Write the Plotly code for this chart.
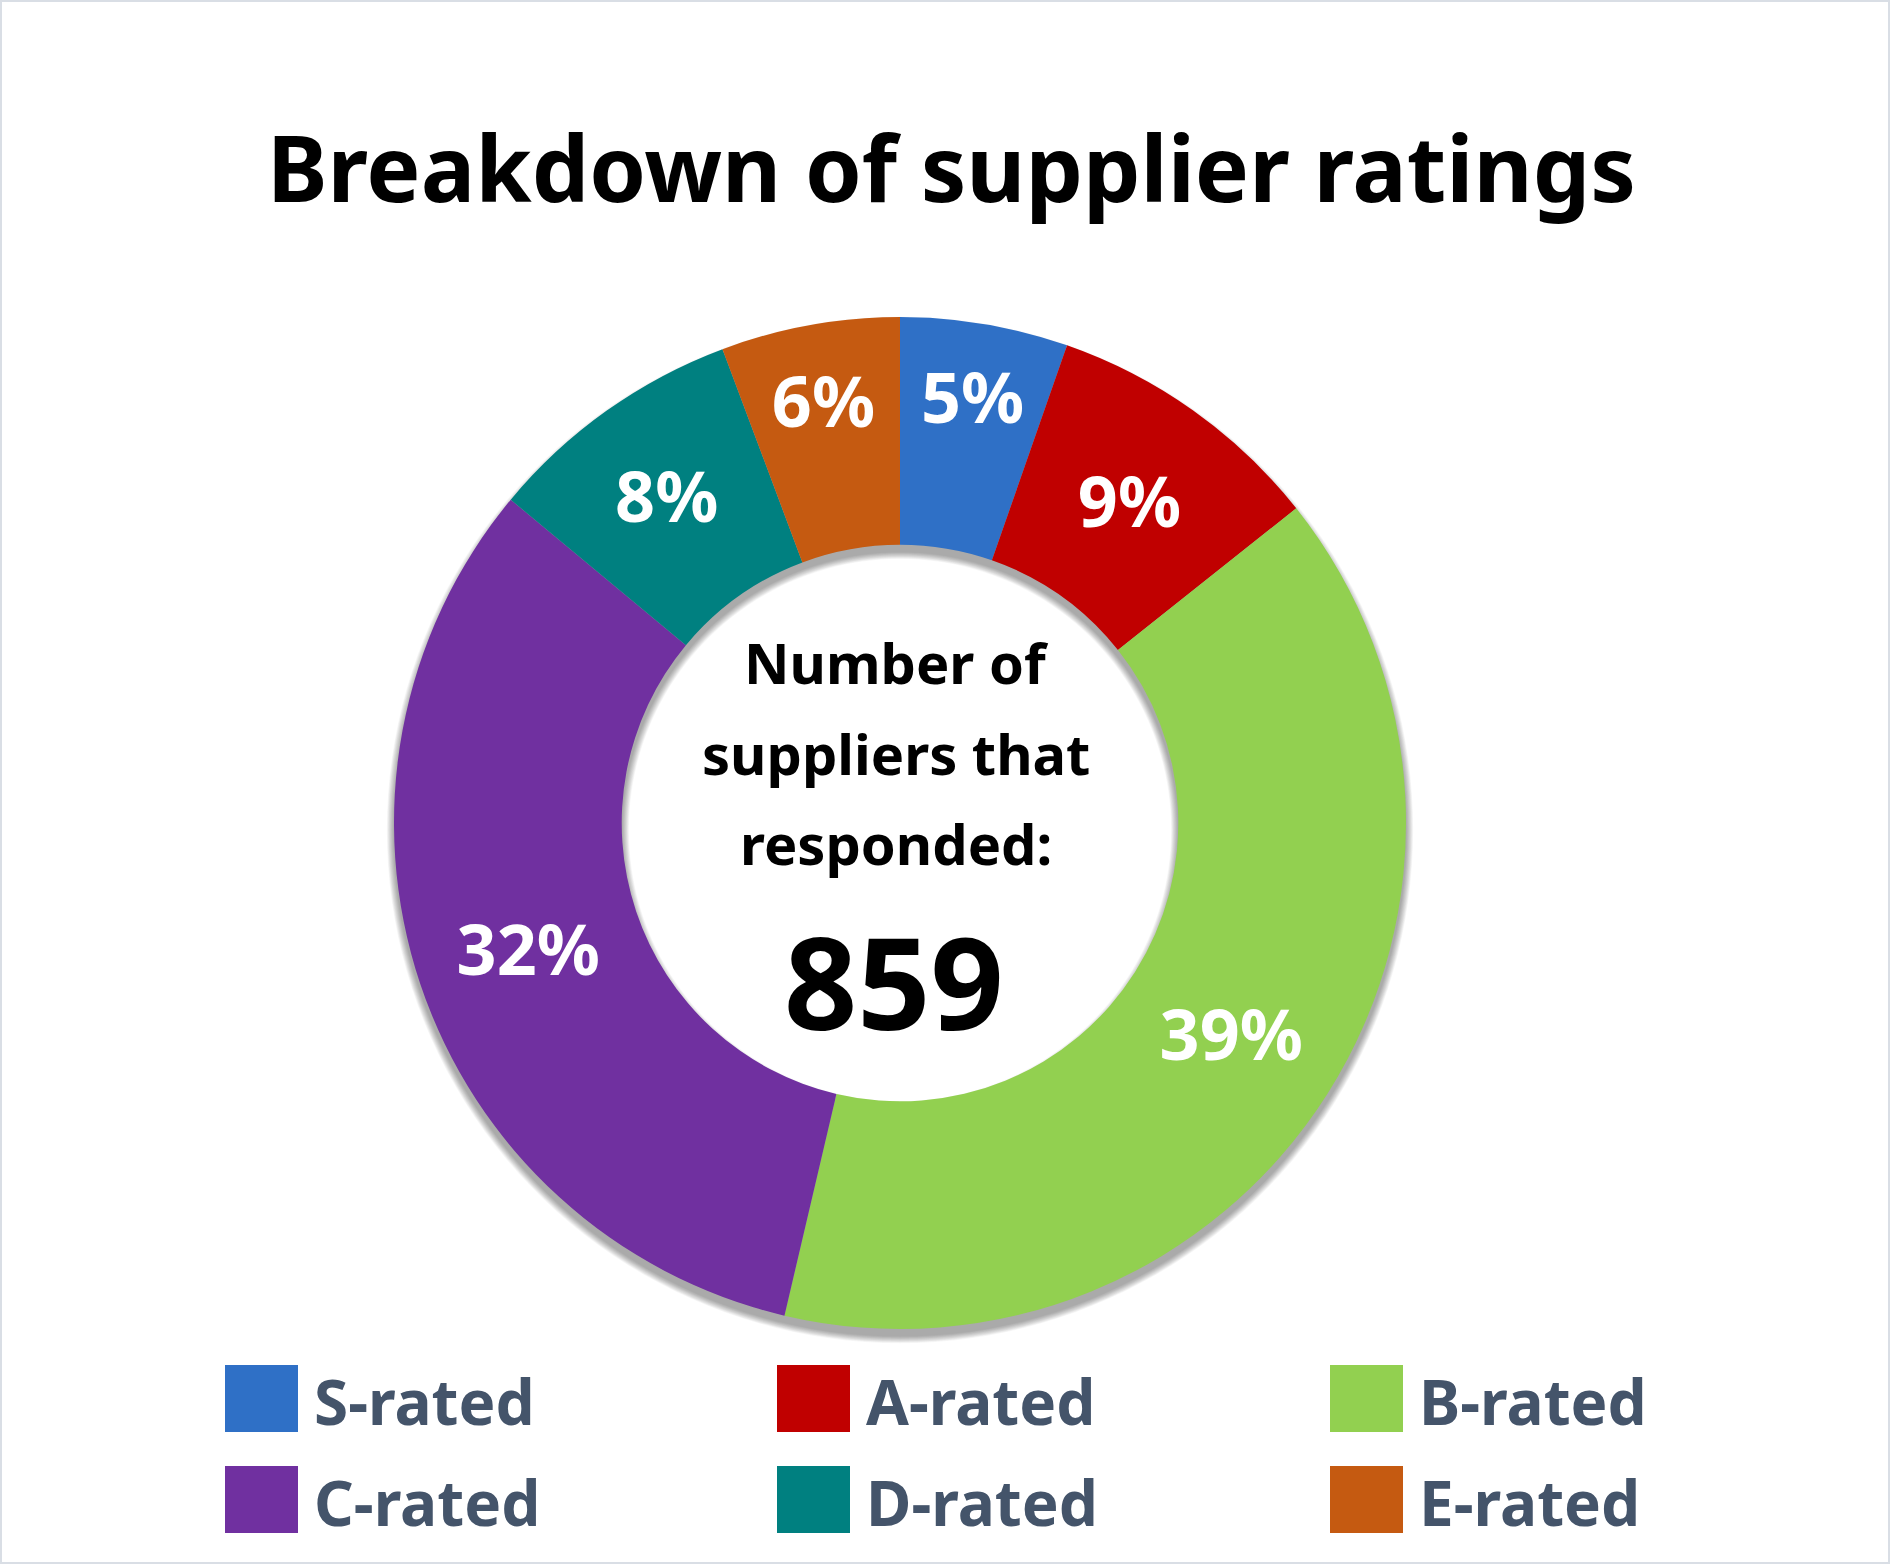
import math
import plotly.graph_objects as go

# ---- data ----
categories = ["S-rated", "A-rated", "B-rated", "C-rated", "D-rated", "E-rated"]
supplier_counts = [46, 77, 338, 278, 71, 49]
colors = ["#2F70C6", "#C00000", "#92D050", "#7030A0", "#008080", "#C55A11"]
title_text = "Breakdown of supplier ratings"
center_lines = ["Number of", "suppliers that", "responded:"]
total_label = str(sum(supplier_counts))

W, H = 1890, 1564
FONT = "Noto Sans"


def px(x):
    return x / W


def py(y):
    return 1 - y / H


# donut geometry (pixels)
CX, CY, R_OUT = 900, 823, 506
HOLE = 0.55

fig = go.Figure()
fig.add_trace(go.Pie(
    labels=categories,
    values=supplier_counts,
    marker=dict(colors=colors, line=dict(width=0)),
    hole=HOLE,
    sort=False,
    direction="clockwise",
    rotation=0,
    texttemplate="%{percent:.0%}",
    textposition="inside",
    insidetextorientation="horizontal",
    textfont=dict(family=FONT, size=70, color="white", weight="bold"),
    domain=dict(x=[px(CX - R_OUT), px(CX + R_OUT)],
                y=[py(CY + R_OUT), py(CY - R_OUT)]),
    showlegend=False,
    hoverinfo="label+value+percent",
))

shapes = []
# soft shadow under the donut (offset downward)
r_in = R_OUT * HOLE
off = 7
for k in range(1, 13):
    ro, ri = R_OUT + k * 0.6, r_in - k * 0.6
    n = 180
    outer = [(CX + ro * math.cos(2 * math.pi * i / n), CY + off + ro * math.sin(2 * math.pi * i / n)) for i in range(n)]
    inner = [(CX + ri * math.cos(-2 * math.pi * i / n), CY + off + ri * math.sin(-2 * math.pi * i / n)) for i in range(n)]
    path = "M " + " L ".join(f"{px(x):.5f},{py(y):.5f}" for x, y in outer) + " Z "
    path += "M " + " L ".join(f"{px(x):.5f},{py(y):.5f}" for x, y in inner) + " Z"
    shapes.append(dict(type="path", xref="paper", yref="paper", path=path,
                       fillcolor="rgba(0,0,0,0.03)", line=dict(width=0), layer="below"))

# border
shapes.append(dict(type="rect", xref="paper", yref="paper", x0=0, y0=0, x1=1, y1=1,
                   line=dict(color="#D9DEE5", width=4), fillcolor="rgba(0,0,0,0)"))

annotations = []
annotations.append(dict(text=f"<b>{title_text}</b>", x=px(952), y=py(167), xref="paper", yref="paper",
                        xanchor="center", yanchor="middle", showarrow=False,
                        font=dict(family=FONT, size=91, color="#000000")))

# center text
baselines = [682, 773, 863]
for line, b in zip(center_lines, baselines):
    annotations.append(dict(text=f"<b>{line}</b>", x=px(CX - 4), y=py(b - 20), xref="paper", yref="paper",
                            xanchor="center", yanchor="middle", showarrow=False,
                            font=dict(family=FONT, size=56, color="#000000")))
annotations.append(dict(text=f"<b>{total_label}</b>", x=px(CX - 6), y=py(1025 - 45), xref="paper", yref="paper",
                        xanchor="center", yanchor="middle", showarrow=False,
                        font=dict(family=FONT, size=128, color="#000000")))

# custom legend (3 columns x 2 rows)
col_x = [225, 777, 1330]
row_y = [1365, 1466]
sw_w, sw_h = 73, 67
for i, (cat, col) in enumerate(zip(categories, colors)):
    cx0 = col_x[i % 3]
    ry0 = row_y[i // 3]
    shapes.append(dict(type="rect", xref="paper", yref="paper",
                       x0=px(cx0), x1=px(cx0 + sw_w), y0=py(ry0 + sw_h), y1=py(ry0),
                       fillcolor=col, line=dict(width=0)))
    annotations.append(dict(text=f"<b>{cat}</b>", x=px(cx0 + sw_w + 14), y=py(ry0 + sw_h / 2 + 2),
                            xref="paper", yref="paper", xanchor="left", yanchor="middle",
                            showarrow=False, font=dict(family=FONT, size=62, color="#44546A")))

fig.update_layout(
    width=W, height=H,
    margin=dict(l=0, r=0, t=0, b=0),
    paper_bgcolor="white",
    plot_bgcolor="white",
    shapes=shapes,
    annotations=annotations,
    showlegend=False,
)

fig.write_html("out.html", config={"displayModeBar": False},
               post_script="document.body.style.margin='0';document.body.style.overflow='hidden';")
